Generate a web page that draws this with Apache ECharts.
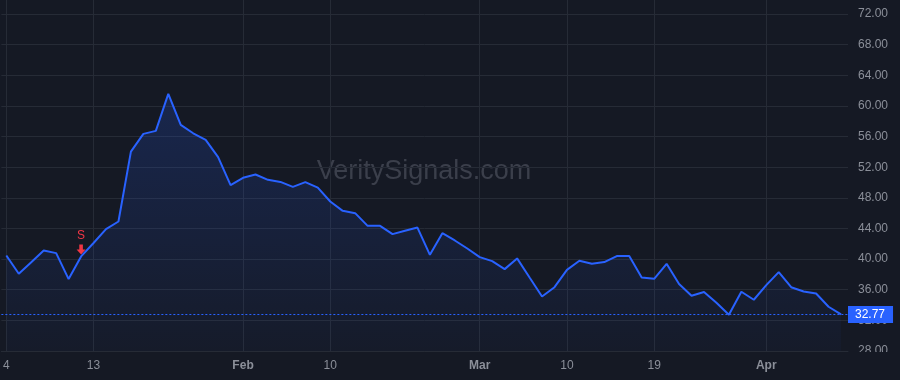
<!DOCTYPE html>
<html>
<head>
<meta charset="utf-8">
<style>
  html, body { margin: 0; padding: 0; background: #151924; }
  #chart { width: 900px; height: 380px; }
</style>
<script src="https://cdn.jsdelivr.net/npm/echarts@6/dist/echarts.min.js"></script>
</head>
<body>
<div id="chart"></div>
<script>
// Trading days (2021)
const dates = [
  '2021-01-04','2021-01-05','2021-01-06','2021-01-07','2021-01-08','2021-01-11','2021-01-12','2021-01-13','2021-01-14','2021-01-15',
  '2021-01-19','2021-01-20','2021-01-21','2021-01-22','2021-01-25','2021-01-26','2021-01-27','2021-01-28','2021-01-29',
  '2021-02-01','2021-02-02','2021-02-03','2021-02-04','2021-02-05','2021-02-08','2021-02-09','2021-02-10','2021-02-11','2021-02-12',
  '2021-02-16','2021-02-17','2021-02-18','2021-02-19','2021-02-22','2021-02-23','2021-02-24','2021-02-25','2021-02-26',
  '2021-03-01','2021-03-02','2021-03-03','2021-03-04','2021-03-05','2021-03-08','2021-03-09','2021-03-10','2021-03-11','2021-03-12',
  '2021-03-15','2021-03-16','2021-03-17','2021-03-18','2021-03-19','2021-03-22','2021-03-23','2021-03-24','2021-03-25','2021-03-26',
  '2021-03-29','2021-03-30','2021-03-31',
  '2021-04-01','2021-04-05','2021-04-06','2021-04-07','2021-04-08','2021-04-09','2021-04-12'
];
const prices = [
  40.47, 38.08, 39.60, 41.13, 40.78, 37.39, 40.35, 42.10, 43.91, 44.91,
  54.04, 56.35, 56.74, 61.57, 57.52, 56.43, 55.56, 53.31, 49.65,
  50.61, 51.04, 50.35, 50.08, 49.43, 50.05, 49.34, 47.52, 46.30, 46.00,
  44.34, 44.34, 43.26, 43.69, 44.12, 40.56, 43.39, 42.43, 41.38,
  40.26, 39.73, 38.69, 40.09, 37.60, 35.12, 36.33, 38.60, 39.78, 39.39,
  39.61, 40.39, 40.39, 37.60, 37.43, 39.39, 36.74, 35.22, 35.70, 34.30,
  32.73, 35.74, 34.69,
  36.60, 38.30, 36.33, 35.76, 35.50, 33.78, 32.77
];
const tickDates  = ['2021-01-04','2021-01-13','2021-02-01','2021-02-10','2021-03-01','2021-03-10','2021-03-19','2021-04-01'];
const tickLabels = ['4','13','Feb','10','Mar','10','19','Apr'];
const monthLabels = ['Feb','Mar','Apr'];
const signalDates  = ['2021-01-12'];
const signalLabels = ['S'];

const tickIdx = tickDates.map(d => dates.indexOf(d));
const seriesData = prices.map((v, i) => [i, v]);
const lastPrice = prices[prices.length - 1];

const bgColor = '#151924';
const gridColor = '#262b36';
const textColor = '#8b8f99';
const lineColor = '#2962ff';

const chart = echarts.init(document.getElementById('chart'), null, { renderer: 'canvas' });
chart.setOption({
  backgroundColor: bgColor,
  animation: false,
  textStyle: { fontFamily: 'Arial, "Liberation Sans", sans-serif' },
  graphic: [{
    type: 'text',
    x: 424, y: 172,
    z: 0,
    silent: true,
    style: {
      text: 'VeritySignals.com',
      fontSize: 27,
      fontFamily: 'Arial, "Liberation Sans", sans-serif',
      fill: '#3b3f4b',
      textAlign: 'center',
      textVerticalAlign: 'middle'
    }
  }, {
    // price-scale pane edge: hides the lower half of the bottom price label, as in the reference
    type: 'rect',
    z: 100,
    silent: true,
    shape: { x: 849, y: 352, width: 51, height: 28 },
    style: { fill: bgColor }
  }],
  grid: { left: 0, right: 52, top: 0, bottom: 29, containLabel: false },
  xAxis: {
    type: 'value',
    min: -0.4,
    max: 67.56,
    axisLine: { show: true, lineStyle: { color: gridColor } },
    axisTick: { show: false },
    splitLine: { show: false },
    axisLabel: {
      customValues: tickIdx,
      margin: 9,
      color: textColor,
      fontSize: 12,
      formatter: function (v) {
        const k = tickIdx.indexOf(Math.round(v));
        if (k < 0) return '';
        const t = tickLabels[k];
        return monthLabels.indexOf(t) >= 0 ? '{b|' + t + '}' : t;
      },
      rich: { b: { fontWeight: 'bold', fontSize: 12, color: textColor } }
    }
  },
  yAxis: {
    type: 'value',
    position: 'right',
    min: 28,
    max: 73.83,
    interval: 4,
    axisLine: { show: false },
    axisTick: { show: false },
    splitLine: { show: true, showMaxLine: false, lineStyle: { color: gridColor, width: 1 } },
    axisLabel: {
      showMaxLabel: false,
      margin: 10,
      color: textColor,
      fontSize: 12,
      formatter: v => (Math.abs(v % 4) < 1e-6 ? v.toFixed(2) : '')
    }
  },
  series: [
    {
      type: 'line',
      name: 'grid',
      data: [],
      silent: true,
      markLine: {
        z: 1,
        silent: true,
        symbol: ['none', 'none'],
        label: { show: false },
        lineStyle: { color: gridColor, type: 'solid', width: 1 },
        data: tickIdx.map(i => ({ xAxis: i }))
      }
    },
    {
      type: 'line',
      name: 'price',
      data: seriesData,
      showSymbol: false,
      symbol: 'none',
      z: 3,
      lineStyle: { color: lineColor, width: 2 },
      areaStyle: {
        color: new echarts.graphic.LinearGradient(0, 0, 0, 1, [
          { offset: 0, color: 'rgba(41,98,255,0.27)' },
          { offset: 1, color: 'rgba(41,98,255,0.04)' }
        ])
      },
      markLine: {
        silent: true,
        symbol: ['none', 'none'],
        lineStyle: { color: lineColor, type: [2, 2], width: 1 },
        label: {
          show: true,
          position: 'end',
          distance: 0,
          formatter: lastPrice.toFixed(2),
          color: '#ffffff',
          backgroundColor: lineColor,
          padding: [3, 8, 2, 7],
          fontSize: 12
        },
        data: [{ yAxis: lastPrice }]
      },
      markPoint: {
        silent: true,
        symbol: 'path://M3,0 L7,0 L7,5 L10,5 L5,10 L0,5 L3,5 Z',
        symbolSize: [9, 10],
        symbolOffset: [0, -7],
        itemStyle: { color: '#f23645' },
        label: {
          show: true,
          position: 'top',
          distance: 3,
          color: '#f23645',
          fontSize: 12
        },
        data: signalDates.map((d, k) => {
          const i = dates.indexOf(d);
          return { coord: [i, prices[i]], value: signalLabels[k], label: { formatter: signalLabels[k] } };
        })
      }
    }
  ]
});
</script>
</body>
</html>
